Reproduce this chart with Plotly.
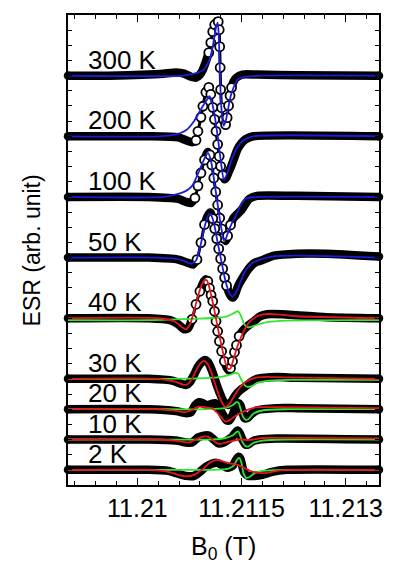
import numpy as np
import plotly.graph_objects as go

# ---------------- data (field offset from 11.21 T in mT, signal in arb. units) ----------------
B_REF = 11.21
temps = ["300 K", "200 K", "100 K", "50 K", "40 K", "30 K", "20 K", "10 K", "2 K"]
offsets = [27, 23, 19, 15, 11, 7, 5, 3, 1]

dB_data_300 = [-1.0, -0.41, 0.16, 0.374, 0.559, 0.673, 0.772, 0.844, 0.900, 0.943, 0.986, 1.028, 1.057, 1.085, 1.114, 1.142, 1.164, 1.178, 1.185, 1.192, 1.199, 1.213, 1.242, 1.270, 1.292, 1.313, 1.334, 1.356, 1.384, 1.427, 1.512, 1.725, 2.294, 3.48]
s_data_300 = [0, 0, 0.07, 0.13, 0.20, 0.13, -0.07, -0.13, 0.07, 0.40, 0.92, 1.52, 2.18, 2.90, 3.36, 3.59, 3.56, 3.03, 1.91, 0.53, -0.92, -2.11, -2.90, -3.23, -2.77, -1.98, -1.32, -0.79, -0.40, -0.13, 0.07, 0.07, 0.03, 0]
dB_fit_300 = [-1.0, 0.659, 0.872, 0.957, 1.038, 1.085, 1.132, 1.156, 1.171, 1.185, 1.199, 1.220, 1.242, 1.270, 1.299, 1.341, 1.384, 1.441, 1.555, 1.797, 3.48]
s_fit_300 = [0, 0, 0.2, 0.4, 1.06, 1.91, 3.17, 3.50, 2.70, 0.73, -1.25, -2.77, -3.30, -3.03, -2.37, -1.39, -0.79, -0.26, -0.07, 0, 0]

dB_data_200 = [-1.0, 0.16, 0.587, 0.701, 0.787, 0.844, 0.872, 0.915, 0.943, 0.986, 1.028, 1.057, 1.085, 1.110, 1.132, 1.156, 1.178, 1.199, 1.228, 1.256, 1.284, 1.313, 1.346, 1.398, 1.441, 1.498, 1.555, 1.669, 3.48]
s_data_200 = [0, 0, -0.07, -0.26, -0.40, -0.26, 0.33, 1.25, 1.98, 2.90, 3.23, 2.77, 1.91, 1.12, 0.33, -0.53, -1.32, -1.98, -2.57, -2.84, -2.70, -2.37, -2.04, -1.39, -0.86, -0.46, -0.20, 0, 0]
dB_fit_200 = [-1.0, 0.303, 0.559, 0.701, 0.815, 0.915, 0.986, 1.038, 1.071, 1.114, 1.156, 1.185, 1.213, 1.242, 1.270, 1.313, 1.370, 1.441, 1.527, 1.669, 3.48]
s_fit_200 = [0, 0, 0.13, 0.40, 0.99, 1.78, 2.31, 2.64, 2.31, 1.32, 0, -1.06, -2.04, -2.84, -2.70, -2.18, -1.39, -0.73, -0.26, 0, 0]

dB_data_100 = [-1.0, 0.16, 0.587, 0.701, 0.772, 0.829, 0.872, 0.915, 0.967, 1.014, 1.043, 1.071, 1.100, 1.128, 1.156, 1.185, 1.213, 1.242, 1.270, 1.299, 1.341, 1.384, 1.441, 1.498, 1.555, 1.612, 1.725, 2.294, 3.48]
s_data_100 = [0, 0, -0.13, -0.33, -0.40, -0.07, 0.73, 1.58, 2.44, 2.97, 2.77, 2.11, 1.25, 0.33, -0.53, -1.39, -2.11, -2.70, -2.90, -2.57, -1.85, -1.39, -1.12, -0.86, -0.46, -0.13, 0.07, 0.07, 0]
dB_fit_100 = [-1.0, 0.374, 0.587, 0.701, 0.787, 0.872, 0.957, 1.014, 1.057, 1.100, 1.142, 1.185, 1.213, 1.242, 1.270, 1.313, 1.356, 1.398, 1.455, 1.512, 1.583, 1.725, 3.48]
s_fit_100 = [0, 0, 0.2, 0.4, 0.73, 1.52, 2.44, 2.90, 2.44, 1.25, -0.07, -1.39, -2.18, -2.84, -2.77, -2.24, -1.78, -1.39, -0.86, -0.33, -0.07, 0, 0]

dB_data_50 = [-1.0, 0.16, 0.587, 0.716, 0.801, 0.858, 0.915, 0.967, 1.014, 1.050, 1.085, 1.114, 1.142, 1.171, 1.199, 1.228, 1.256, 1.284, 1.313, 1.341, 1.370, 1.398, 1.441, 1.484, 1.536, 1.583, 1.630, 1.697, 1.782, 1.967, 2.294, 2.721, 3.48]
s_data_50 = [0, 0, -0.13, -0.33, -0.46, -0.13, 0.99, 2.18, 2.77, 2.97, 2.57, 1.91, 1.25, 0.59, -0.07, -0.73, -1.32, -1.85, -2.24, -2.51, -2.64, -2.51, -1.98, -1.58, -1.19, -0.86, -0.59, -0.33, -0.20, 0.13, 0.26, 0.26, 0.07]
dB_fit_50 = [-1.0, 0.303, 0.616, 0.730, 0.787, 0.844, 0.915, 0.972, 1.028, 1.057, 1.100, 1.156, 1.213, 1.270, 1.327, 1.370, 1.413, 1.470, 1.541, 1.626, 1.725, 1.939, 2.294, 3.48]
s_fit_50 = [0, 0, -0.13, -0.33, -0.40, -0.20, 0.92, 2.11, 2.84, 2.84, 2.31, 0.99, -0.33, -1.58, -2.37, -2.57, -2.37, -1.78, -0.99, -0.46, -0.20, 0.07, 0.13, 0]

dB_data_40 = [-1.0, 0.16, 0.474, 0.587, 0.673, 0.730, 0.787, 0.844, 0.900, 0.943, 0.986, 1.014, 1.038, 1.061, 1.085, 1.110, 1.132, 1.156, 1.181, 1.213, 1.252, 1.284, 1.313, 1.341, 1.370, 1.398, 1.427, 1.465, 1.512, 1.583, 1.678, 1.768, 1.868, 2.081, 2.294, 2.721, 3.48]
s_data_40 = [0, 0, -0.13, -0.40, -0.73, -0.66, -0.07, 0.92, 1.78, 2.31, 2.57, 2.44, 1.98, 1.52, 1.12, 0.46, -0.20, -0.86, -1.52, -2.18, -2.84, -3.23, -3.43, -3.30, -2.84, -2.24, -1.78, -1.19, -0.86, -0.53, -0.20, 0.13, 0.26, 0.26, 0.20, 0.07, 0]
dB_fit_40 = [-1.0, 0.303, 0.530, 0.644, 0.701, 0.758, 0.815, 0.872, 0.929, 0.972, 1.000, 1.043, 1.100, 1.156, 1.213, 1.270, 1.313, 1.341, 1.384, 1.441, 1.498, 1.555, 1.612, 1.697, 1.811, 2.010, 2.294, 3.48]
s_fit_40 = [0, 0, -0.20, -0.59, -0.73, -0.40, 0.46, 1.45, 2.24, 2.51, 2.51, 1.91, 0.73, -0.59, -1.85, -2.97, -3.36, -3.30, -2.70, -1.85, -1.19, -0.66, -0.26, 0.07, 0.26, 0.26, 0.13, 0]
dB_green_40 = [-1.0, 0.16, 0.872, 1.156, 1.299, 1.384, 1.441, 1.469, 1.498, 1.533, 1.569, 1.626, 1.725, 1.868, 2.152, 3.48]
s_green_40 = [-0.13, -0.13, -0.03, 0.03, 0.13, 0.33, 0.46, 0.36, 0.07, -0.33, -0.56, -0.59, -0.43, -0.26, -0.16, -0.13]

dB_data_30 = [-1.0, 0.16, 0.516, 0.630, 0.701, 0.758, 0.815, 0.872, 0.929, 0.972, 1.014, 1.057, 1.100, 1.142, 1.185, 1.228, 1.270, 1.313, 1.356, 1.398, 1.441, 1.484, 1.527, 1.583, 1.640, 1.725, 2.010, 2.294, 3.48]
s_data_30 = [0, 0, -0.13, -0.33, -0.40, -0.20, 0.26, 0.79, 1.12, 1.25, 1.12, 0.73, 0.20, -0.40, -0.92, -1.39, -1.65, -1.72, -1.52, -1.19, -0.92, -0.73, -0.59, -0.40, -0.20, 0, 0.13, 0.07, 0]
dB_fit_30 = [-1.0, 0.303, 0.559, 0.673, 0.730, 0.801, 0.872, 0.929, 0.957, 1.000, 1.057, 1.114, 1.171, 1.228, 1.270, 1.313, 1.370, 1.441, 1.512, 1.583, 1.697, 1.839, 2.152, 3.48]
s_fit_30 = [0, 0, -0.20, -0.40, -0.33, 0.13, 0.79, 1.12, 1.19, 1.06, 0.53, -0.26, -1.06, -1.65, -1.85, -1.72, -1.32, -0.79, -0.40, -0.13, 0.07, 0.13, 0.10, 0]
dB_green_30 = [-1.0, 0.16, 0.872, 1.156, 1.327, 1.413, 1.455, 1.498, 1.541, 1.583, 1.654, 1.725, 1.868, 2.152, 3.48]
s_green_30 = [0, 0, 0.03, 0.10, 0.26, 0.40, 0.33, -0.07, -0.40, -0.53, -0.46, -0.26, -0.13, -0.07, -0.07]

dB_data_20 = [-1.0, 0.16, 0.559, 0.701, 0.772, 0.829, 0.886, 0.943, 1.000, 1.057, 1.114, 1.171, 1.228, 1.284, 1.327, 1.370, 1.413, 1.455, 1.484, 1.512, 1.541, 1.583, 1.640, 1.725, 2.010, 2.294, 3.48]
s_data_20 = [0, 0, -0.13, -0.26, -0.20, 0.26, 0.46, 0.40, 0.26, 0.33, 0.40, 0.13, -0.33, -0.73, -0.73, -0.40, 0.13, 0.40, 0.26, -0.20, -0.59, -0.59, -0.33, -0.07, 0.07, 0.07, 0]
dB_fit_20 = [-1.0, 0.303, 0.587, 0.687, 0.772, 0.872, 0.972, 1.071, 1.156, 1.228, 1.270, 1.327, 1.384, 1.455, 1.527, 1.612, 1.725, 2.010, 3.48]
s_fit_20 = [0, 0, -0.13, -0.20, -0.07, 0.16, 0.13, 0.07, -0.26, -0.66, -0.82, -0.73, -0.53, -0.33, -0.16, 0, 0.13, 0.13, 0.07]
dB_green_20 = [-1.0, 0.16, 1.014, 1.256, 1.370, 1.427, 1.455, 1.484, 1.512, 1.555, 1.597, 1.669, 1.811, 2.152, 3.48]
s_green_20 = [0, 0, 0, 0.07, 0.26, 0.46, 0.43, 0.07, -0.40, -0.69, -0.66, -0.30, -0.07, 0, 0]

dB_data_10 = [-1.0, 0.16, 0.559, 0.701, 0.787, 0.872, 0.957, 1.028, 1.100, 1.171, 1.242, 1.313, 1.370, 1.413, 1.441, 1.469, 1.512, 1.555, 1.597, 1.654, 1.754, 2.010, 3.48]
s_data_10 = [0, 0, -0.07, -0.20, -0.20, 0.13, 0.26, 0.26, 0, -0.26, -0.20, 0, 0.20, 0.46, 0.59, 0.46, 0, -0.33, -0.33, -0.13, 0, 0.07, 0]
dB_fit_10 = [-1.0, 0.303, 0.587, 0.730, 0.844, 0.957, 1.043, 1.128, 1.185, 1.270, 1.356, 1.469, 1.612, 1.797, 2.294, 3.48]
s_fit_10 = [0, 0, -0.10, -0.20, 0, 0.20, 0.13, -0.20, -0.30, -0.20, -0.10, 0, -0.03, 0.10, 0.10, 0.07]
dB_green_10 = [-1.0, 0.16, 1.085, 1.270, 1.370, 1.427, 1.455, 1.484, 1.512, 1.555, 1.597, 1.669, 1.797, 2.152, 3.48]
s_green_10 = [0, 0, 0, 0.10, 0.26, 0.49, 0.53, 0.20, -0.16, -0.43, -0.46, -0.23, -0.07, 0, 0]

dB_data_2 = [-1.0, 0.16, 0.445, 0.587, 0.701, 0.815, 0.900, 0.986, 1.071, 1.142, 1.213, 1.299, 1.370, 1.413, 1.455, 1.484, 1.512, 1.541, 1.597, 1.683, 1.797, 1.939, 2.152, 3.48]
s_data_2 = [0, 0, -0.07, -0.26, -0.40, -0.40, -0.13, 0.20, 0.40, 0.46, 0.33, 0.13, 0.26, 0.59, 0.86, 0.73, 0.20, -0.20, -0.40, -0.40, -0.33, -0.13, 0, 0]
dB_fit_2 = [-1.0, 0.16, 0.445, 0.587, 0.701, 0.815, 0.929, 1.043, 1.142, 1.228, 1.327, 1.441, 1.541, 1.640, 1.754, 1.868, 2.053, 2.294, 3.48]
s_fit_2 = [0, 0, -0.13, -0.33, -0.43, -0.33, 0, 0.46, 0.66, 0.56, 0.43, 0.33, 0.13, -0.10, -0.20, -0.20, -0.03, 0, 0]
dB_green_2 = [-1.0, 0.16, 1.085, 1.299, 1.384, 1.434, 1.469, 1.498, 1.527, 1.569, 1.612, 1.683, 1.797, 2.152, 3.48]
s_green_2 = [0, 0, 0, 0.07, 0.26, 0.66, 0.79, 0.46, -0.20, -0.53, -0.49, -0.23, -0.07, 0, 0]

x_tick_vals = [11.21, 11.2115, 11.213]
x_tick_text = ["11.21", "11.2115", "11.213"]

# ---------------- styling ----------------
BLUE = "#1c1cdc"
RED = "#e8141c"
GREEN = "#2ee62e"
FONT = "Liberation Sans, Arial, sans-serif"
# individual circles are resolved only in the large-amplitude spectra
resolve_circles = [True, True, True, True, True, False, False, False, False]

spectra = [
    (temps[0], offsets[0], dB_data_300, s_data_300, dB_fit_300, s_fit_300, None, None, BLUE),
    (temps[1], offsets[1], dB_data_200, s_data_200, dB_fit_200, s_fit_200, None, None, BLUE),
    (temps[2], offsets[2], dB_data_100, s_data_100, dB_fit_100, s_fit_100, None, None, BLUE),
    (temps[3], offsets[3], dB_data_50, s_data_50, dB_fit_50, s_fit_50, None, None, BLUE),
    (temps[4], offsets[4], dB_data_40, s_data_40, dB_fit_40, s_fit_40, dB_green_40, s_green_40, RED),
    (temps[5], offsets[5], dB_data_30, s_data_30, dB_fit_30, s_fit_30, dB_green_30, s_green_30, RED),
    (temps[6], offsets[6], dB_data_20, s_data_20, dB_fit_20, s_fit_20, dB_green_20, s_green_20, RED),
    (temps[7], offsets[7], dB_data_10, s_data_10, dB_fit_10, s_fit_10, dB_green_10, s_green_10, RED),
    (temps[8], offsets[8], dB_data_2, s_data_2, dB_fit_2, s_fit_2, dB_green_2, s_green_2, RED),
]

X_RANGE = [11.209, 11.21348]
Y_RANGE = [0, 31]
W, H = 393, 566
ML, MR, MT, MB = 68, 10, 15, 81
PX_X = (W - ML - MR) / ((X_RANGE[1] - X_RANGE[0]) * 1000)  # px per mT
PX_Y = (H - MT - MB) / (Y_RANGE[1] - Y_RANGE[0])          # px per unit
STEEP = 3.2


def field(dB):
    return B_REF + np.asarray(dB, dtype=float) / 1000.0


fig = go.Figure()

data_marks, ends = [], []
for k, (name, off, dbx, sy, fx, fy, gx, gy, col) in enumerate(spectra):
    dbx = np.asarray(dbx, float)
    yy = np.asarray(sy, float) + off
    if resolve_circles[k]:
        seg_steep = np.abs(np.diff(yy) * PX_Y) / np.maximum(np.diff(dbx) * PX_X, 1e-6) > STEEP
    else:
        seg_steep = np.zeros(len(dbx) - 1, bool)
    fig.add_trace(go.Scatter(x=field(dbx), y=yy, mode="lines",
                             line=dict(color="black", width=3, shape="spline", smoothing=0.6),
                             hoverinfo="skip", showlegend=False))
    bx, by = [], []
    for i in range(len(dbx)):
        bx.append(field(dbx[i])); by.append(yy[i])
        if i < len(seg_steep) and seg_steep[i]:
            bx.append(None); by.append(None)
    fig.add_trace(go.Scatter(x=bx, y=by, mode="lines", line=dict(color="black", width=8.5, shape="spline", smoothing=0.6),
                             hoverinfo="skip", showlegend=False))
    mark = np.zeros(len(dbx), bool)
    mark[:-1] |= seg_steep
    mark[1:] |= seg_steep
    data_marks.append((field(dbx[mark]), yy[mark]))
    ends.append((field(dbx[[0, -1]]), yy[[0, -1]]))

for mx, my in data_marks:
    if len(mx):
        fig.add_trace(go.Scatter(x=mx, y=my, mode="markers",
                                 marker=dict(symbol="circle", size=9, color="white", line=dict(color="black", width=1.8)),
                                 hoverinfo="skip", showlegend=False))
for ex, ey in ends:
    fig.add_trace(go.Scatter(x=ex, y=ey, mode="markers", cliponaxis=False,
                             marker=dict(symbol="circle", size=8.5, color="black"), hoverinfo="skip", showlegend=False))

for name, off, dbx, sy, fx, fy, gx, gy, col in spectra:
    if gx is not None:
        fig.add_trace(go.Scatter(x=field(gx), y=np.asarray(gy) + off, mode="lines",
                                 line=dict(color=GREEN, width=1.8, shape="spline", smoothing=0.6),
                                 hoverinfo="skip", showlegend=False))
for name, off, dbx, sy, fx, fy, gx, gy, col in spectra:
    fig.add_trace(go.Scatter(x=field(fx), y=np.asarray(fy) + off, mode="lines",
                             line=dict(color=col, width=1.8, shape="spline", smoothing=0.6),
                             hoverinfo="skip", showlegend=False))

annotations = []
for name, off, *_ in spectra:
    annotations.append(dict(x=field(-0.74), y=off, xref="x", yref="y", text=name, showarrow=False,
                            xanchor="left", yanchor="bottom", yshift=-1,
                            font=dict(family=FONT, size=26, color="black")))
annotations.append(dict(x=(32 - ML) / (W - ML - MR), y=0.5, xref="paper", yref="paper",
                        text="ESR (arb. unit)", textangle=-90, showarrow=False,
                        xanchor="center", yanchor="middle", font=dict(family=FONT, size=23, color="black")))
annotations.append(dict(x=0.5, y=-(548 - (H - MB)) / (H - MT - MB), xref="paper", yref="paper",
                        text="B<sub>0</sub> (T)", showarrow=False, xanchor="center", yanchor="middle",
                        font=dict(family=FONT, size=25, color="black")))

fig.update_layout(
    width=W, height=H, margin=dict(l=ML, r=MR, t=MT, b=MB),
    paper_bgcolor="white", plot_bgcolor="white", showlegend=False,
    annotations=annotations,
    xaxis=dict(range=X_RANGE, tickmode="array", tickvals=x_tick_vals, ticktext=x_tick_text,
               ticks="inside", ticklen=7, tickwidth=1.2, tickcolor="black",
               minor=dict(tickmode="linear", tick0=11.21, dtick=0.0003, ticks="inside", ticklen=4,
                          tickwidth=1.2, tickcolor="black", showgrid=False),
               showline=True, linecolor="black", linewidth=1.5, mirror="allticks",
               showgrid=False, zeroline=False,
               tickfont=dict(family=FONT, size=25, color="black")),
    yaxis=dict(range=Y_RANGE, tickmode="linear", tick0=0, dtick=1, ticks="inside", ticklen=4,
               tickwidth=1.2, tickcolor="black", showticklabels=False,
               showline=True, linecolor="black", linewidth=1.5, mirror="allticks",
               showgrid=False, zeroline=False),
)

fig.write_html("out.html", config={"displayModeBar": False},
               post_script="document.body.style.margin='0';document.body.style.overflow='hidden';")
